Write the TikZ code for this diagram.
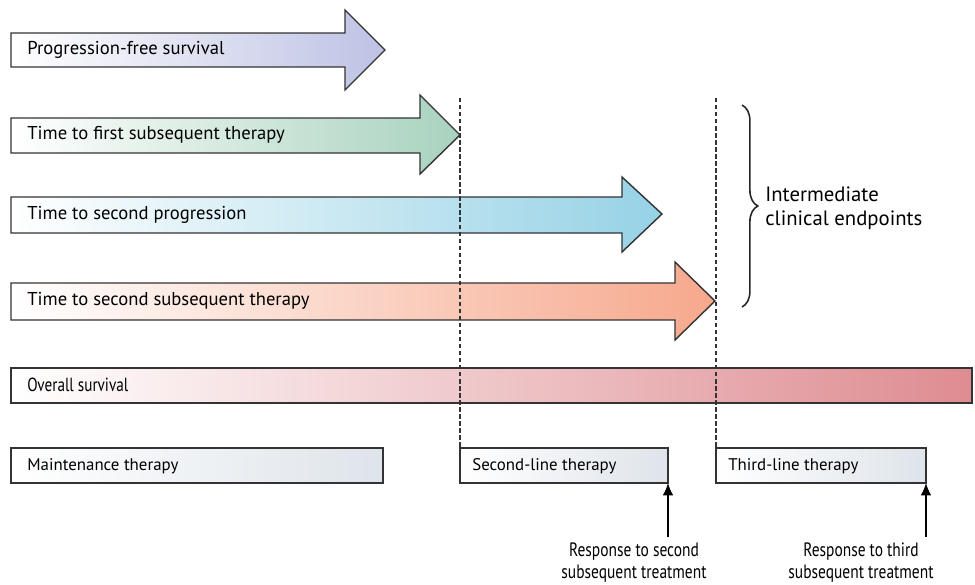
\documentclass[tikz,border=0pt]{standalone}
\usepackage{fontspec}
\setmainfont{PT Sans}
\newfontfamily\narrowsans[FakeStretch=0.8]{PT Sans}
\usetikzlibrary{positioning,arrows.meta,decorations.pathreplacing}

\definecolor{pfscol}{RGB}{190,194,228}
\definecolor{tfstcol}{RGB}{168,210,190}
\definecolor{tspcol}{RGB}{150,210,230}
\definecolor{tsstcol}{RGB}{246,168,140}
\definecolor{oscol}{RGB}{222,140,145}
\definecolor{boxcol}{RGB}{222,228,234}

\begin{document}
\begin{tikzpicture}[
  x=0.02cm, y=-0.02cm,
  font=\fontsize{9.6}{11.5}\selectfont,
  bar/.style={draw=black!80, line width=0.8pt},
  lbl/.style={anchor=west, inner sep=0pt},
  arrlbl/.style={lbl, font=\fontsize{10.6}{12}\selectfont},
  guide/.style={black!80, line width=0.7pt, dash pattern=on 2.5pt off 1.5pt}
]
\useasboundingbox (0,0) rectangle (975,585);

% Endpoint arrows
\shade[bar, left color=white, right color=pfscol]
  (11,33) -- (345,33) -- (345,10) -- (385,50) -- (345,90) -- (345,67) -- (11,67) -- cycle;
\node[arrlbl] (pfs) at (27,50) {Progression-free survival};

\shade[bar, left color=white, right color=tfstcol]
  (11,118) -- (420,118) -- (420,95) -- (460,135) -- (420,174) -- (420,153) -- (11,153) -- cycle;
\node[arrlbl] (tfst) at (27,135) {Time to first subsequent therapy};

\shade[bar, left color=white, right color=tspcol]
  (11,197) -- (622,197) -- (622,177) -- (662,214) -- (622,252) -- (622,233) -- (11,233) -- cycle;
\node[arrlbl] (tsp) at (27,215) {Time to second progression};

\shade[bar, left color=white, right color=tsstcol]
  (11,283) -- (675,283) -- (675,262) -- (715,301) -- (675,340) -- (675,320) -- (11,320) -- cycle;
\node[arrlbl] (tsst) at (27,301) {Time to second subsequent therapy};

% Overall survival
\shade[bar, left color=white, right color=oscol] (11,368) rectangle (972,403);
\node[lbl, font=\narrowsans\fontsize{10.8}{12}\selectfont] (os) at (27,385) {Overall survival};

% Therapy lines
\shade[bar, left color=white, right color=boxcol] (11,448) rectangle (383,483);
\node[lbl] (maint) at (27,466) {Maintenance therapy};

\shade[bar, left color=white, right color=boxcol] (460,448) rectangle (668,483);
\node[lbl] (second) at (472,466) {Second-line therapy};
\coordinate (secend) at (668,483);

\shade[bar, left color=white, right color=boxcol] (716,448) rectangle (926,483);
\node[lbl] (third) at (728,466) {Third-line therapy};
\coordinate (thirdend) at (926,483);

% Dashed guides
\coordinate (g1top) at (460,98);
\coordinate (g1bot) at (460,448);
\coordinate (g2top) at (716,98);
\coordinate (g2bot) at (716,448);
\draw[guide] (g1top) -- (g1bot);
\draw[guide] (g2top) -- (g2bot);

% Brace
\coordinate (brtop) at (742,105);
\coordinate (brbot) at (742,307);
\draw[black!85, line width=0.9pt, decorate,
  decoration={brace, amplitude=9pt}] (brtop) -- (brbot);
\node[lbl, align=left, font=\fontsize{11.8}{13.8}\selectfont] (ice) at (765,208)
  {Intermediate\\clinical endpoints};

% Responses
\node[align=center, inner sep=0pt, anchor=north, font=\narrowsans\fontsize{11}{12.6}\selectfont]
  (resp2) at (634,542) {Response to second\\subsequent treatment};
\node[align=center, inner sep=0pt, anchor=north, font=\narrowsans\fontsize{11}{12.6}\selectfont]
  (resp3) at (861,542) {Response to third\\subsequent treatment};
\draw[-{Latex[length=7pt, width=6pt]}, line width=0.8pt]
  ([yshift=3pt]secend |- resp2.north) -- (secend);
\draw[-{Latex[length=7pt, width=6pt]}, line width=0.8pt]
  ([yshift=3pt]thirdend |- resp3.north) -- (thirdend);

\end{tikzpicture}
\end{document}
